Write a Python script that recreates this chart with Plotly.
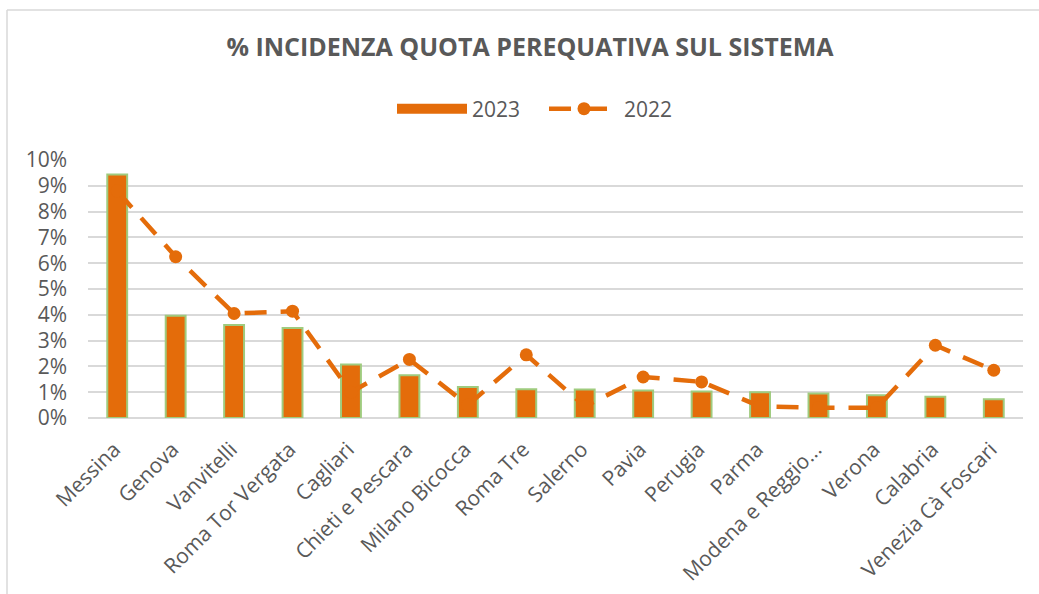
import plotly.graph_objects as go

categories = ["Messina", "Genova", "Vanvitelli", "Roma Tor Vergata", "Cagliari",
              "Chieti e Pescara", "Milano Bicocca", "Roma Tre", "Salerno", "Pavia",
              "Perugia", "Parma", "Modena e Reggio...", "Verona", "Calabria",
              "Venezia Cà Foscari"]
values_2023 = [9.44, 3.96, 3.60, 3.49, 2.07, 1.66, 1.20, 1.11, 1.10, 1.07,
               1.03, 1.00, 0.95, 0.88, 0.82, 0.73]
values_2022 = [8.80, 6.25, 4.05, 4.14, 1.00, 2.27, 0.50, 2.45, 0.45, 1.59,
               1.40, 0.45, 0.40, 0.40, 2.82, 1.85]
y_ticks = [0, 1, 2, 3, 4, 5, 6, 7, 8, 9, 10]

ORANGE = "#E46C0A"
GREEN = "#9FCB7E"
GRAY = "#595959"
FONT = "Open Sans"

fig = go.Figure()
fig.add_trace(go.Bar(
    x=categories, y=[v / 100 for v in values_2023], name="2023",
    marker=dict(color=ORANGE, line=dict(color=GREEN, width=2)),
    showlegend=False, legendgroup="2023",
))
# legend entry for the bars (wide swatch like the original)
fig.add_trace(go.Scatter(
    x=[None], y=[None], name="2023", mode="lines", legendgroup="2023",
    line=dict(color=ORANGE, width=13),
))
fig.add_trace(go.Scatter(
    x=categories, y=[v / 100 for v in values_2022], name="2022",
    mode="lines+markers",
    line=dict(color=ORANGE, width=4.5, dash="22px,14px"),
    marker=dict(color=ORANGE, size=13),
))

W, H = 1039, 594
L, R, T, B = 88, 1023, 160, 418
pw, ph = R - L, B - T

def px(xp):
    return (xp - L) / pw

def py(yp):
    return (B - yp) / ph

fig.update_layout(
    width=W, height=H,
    margin=dict(l=L, r=W - R, t=T, b=H - B, pad=0, autoexpand=False),
    paper_bgcolor="white", plot_bgcolor="white",
    font=dict(family=FONT, color=GRAY, size=20),
    bargap=0.66,
    title=dict(text="<b>% INCIDENZA QUOTA PEREQUATIVA SUL SISTEMA</b>",
               x=530 / W, xref="container", xanchor="center",
               y=1 - 47 / H, yref="container", yanchor="middle",
               font=dict(family=FONT, size=25, color=GRAY)),
    legend=dict(orientation="h", xref="container", yref="container",
                x=392 / W, xanchor="left",
                y=1 - 109 / H, yanchor="middle",
                font=dict(family=FONT, size=21, color=GRAY),
                itemwidth=70, entrywidth=67, traceorder="normal"),
    showlegend=True,
    xaxis=dict(range=[-0.5, len(categories) - 0.5],
               tickangle=-45, tickfont=dict(size=21, color=GRAY),
               showgrid=False, showline=False, ticks="", automargin=False,
               ticklabelshift=-3, ticklabelstandoff=14),
    yaxis=dict(range=[0, 0.1], tickvals=[t / 100 for t in y_ticks],
               ticktext=[f"{t}%" for t in y_ticks],
               tickfont=dict(size=21, color=GRAY),
               gridcolor="#D9D9D9", gridwidth=1.5,
               zeroline=True, zerolinecolor="#D9D9D9", zerolinewidth=1.5,
               showline=False, ticks="", ticklabelstandoff=20, automargin=False),
    shapes=[
        dict(type="line", xref="paper", yref="paper",
             x0=px(7), x1=px(7), y0=py(594), y1=py(10),
             line=dict(color="#D9D9D9", width=1.5)),
        dict(type="line", xref="paper", yref="paper",
             x0=px(7), x1=px(1039), y0=py(10), y1=py(10),
             line=dict(color="#D9D9D9", width=1.5)),
    ],
)

fig.write_html("out.html", config={"displayModeBar": False},
               post_script="document.body.style.margin='0';document.body.style.overflow='hidden';")
